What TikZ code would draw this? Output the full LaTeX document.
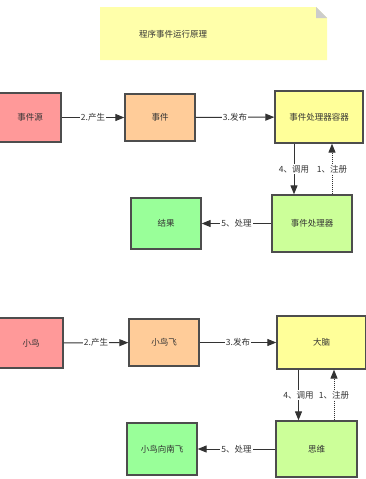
\documentclass[tikz,border=0pt]{standalone}
\usepackage{fontspec}
\setmainfont{Noto Sans CJK SC}
\usepackage{xcolor}
\usepackage{tikz}
\usetikzlibrary{arrows.meta,positioning}
\definecolor{Ink}{HTML}{333333}
\definecolor{Edge}{HTML}{4D4D4D}
\definecolor{Pink}{HTML}{FF9999}
\definecolor{Peach}{HTML}{FFCC99}
\definecolor{Lemon}{HTML}{FFFF99}
\definecolor{Lime}{HTML}{CCFF99}
\definecolor{Mint}{HTML}{99FF99}
\definecolor{Note}{HTML}{FFFFAA}
\definecolor{Fold}{HTML}{CCCCCC}

\begin{document}
\begin{tikzpicture}[x=1pt,y=-1pt,
  font=\fontsize{8.5}{10}\selectfont, text=Ink,
  box/.style={draw=Edge,line width=1.3pt,inner sep=0pt,align=center},
  arr/.style={-{Triangle[length=9pt,width=7pt]},line width=1pt,color=Ink},
  reg/.style={arr,densely dotted},
  lbl/.style={fill=white,inner sep=1pt,midway,text=Ink}]
\useasboundingbox (0,0) rectangle (366,479);
% title note
\fill[Note] (100,7) -- (316,7) -- (327,18) -- (327,60) -- (100,60) -- cycle;
\fill[Fold] (316,7) -- (327,18) -- (316,18) -- cycle;
\node (title) at (173,34) {程序事件运行原理};
% first row
\node[box,fill=Pink,minimum width=62pt,minimum height=49pt] (src1) at (30,117.5) {事件源};
\node[box,fill=Peach,minimum width=70pt,minimum height=47pt] (evt1) at (160,117.5) {事件};
\node[box,fill=Lemon,minimum width=88pt,minimum height=52pt] (cont1) at (319,117) {事件处理器容器};
\node[box,fill=Lime,minimum width=80pt,minimum height=57pt] (hdl1) at (312,223.5) {事件处理器};
\node[box,fill=Mint,minimum width=70pt,minimum height=51pt] (res1) at (166,223.5) {结果};
\draw[arr] (src1) -- node[lbl] {2.产生} (evt1);
\draw[arr] (evt1) -- node[lbl] {3.发布} (cont1);
\draw[arr] ([xshift=-25pt]cont1.south) -- node[lbl] {4、调用} ([xshift=-25pt]cont1.south |- hdl1.north);
\draw[reg] ([xshift=13pt]cont1.south |- hdl1.north) -- node[lbl] {1、注册} ([xshift=13pt]cont1.south);
\draw[arr] (hdl1) -- node[lbl] {5、处理} (res1);
% second row
\node[box,fill=Pink,minimum width=64pt,minimum height=50pt] (src2) at (31,343) {小鸟};
\node[box,fill=Peach,minimum width=70pt,minimum height=47pt] (evt2) at (164,342.5) {小鸟飞};
\node[box,fill=Lemon,minimum width=89pt,minimum height=53pt] (cont2) at (321.5,342.5) {大脑};
\node[box,fill=Lime,minimum width=81pt,minimum height=56pt] (hdl2) at (316.5,449) {思维};
\node[box,fill=Mint,minimum width=70pt,minimum height=52pt] (res2) at (162,449) {小鸟向南飞};
\draw[arr] (src2) -- node[lbl] {2.产生} (evt2);
\draw[arr] (evt2) -- node[lbl] {3.发布} (cont2);
\draw[arr] ([xshift=-23pt]cont2.south) -- node[lbl] {4、调用} ([xshift=-23pt]cont2.south |- hdl2.north);
\draw[reg] ([xshift=12.5pt]cont2.south |- hdl2.north) -- node[lbl] {1、注册} ([xshift=12.5pt]cont2.south);
\draw[arr] (hdl2) -- node[lbl] {5、处理} (res2);
\end{tikzpicture}
\end{document}
